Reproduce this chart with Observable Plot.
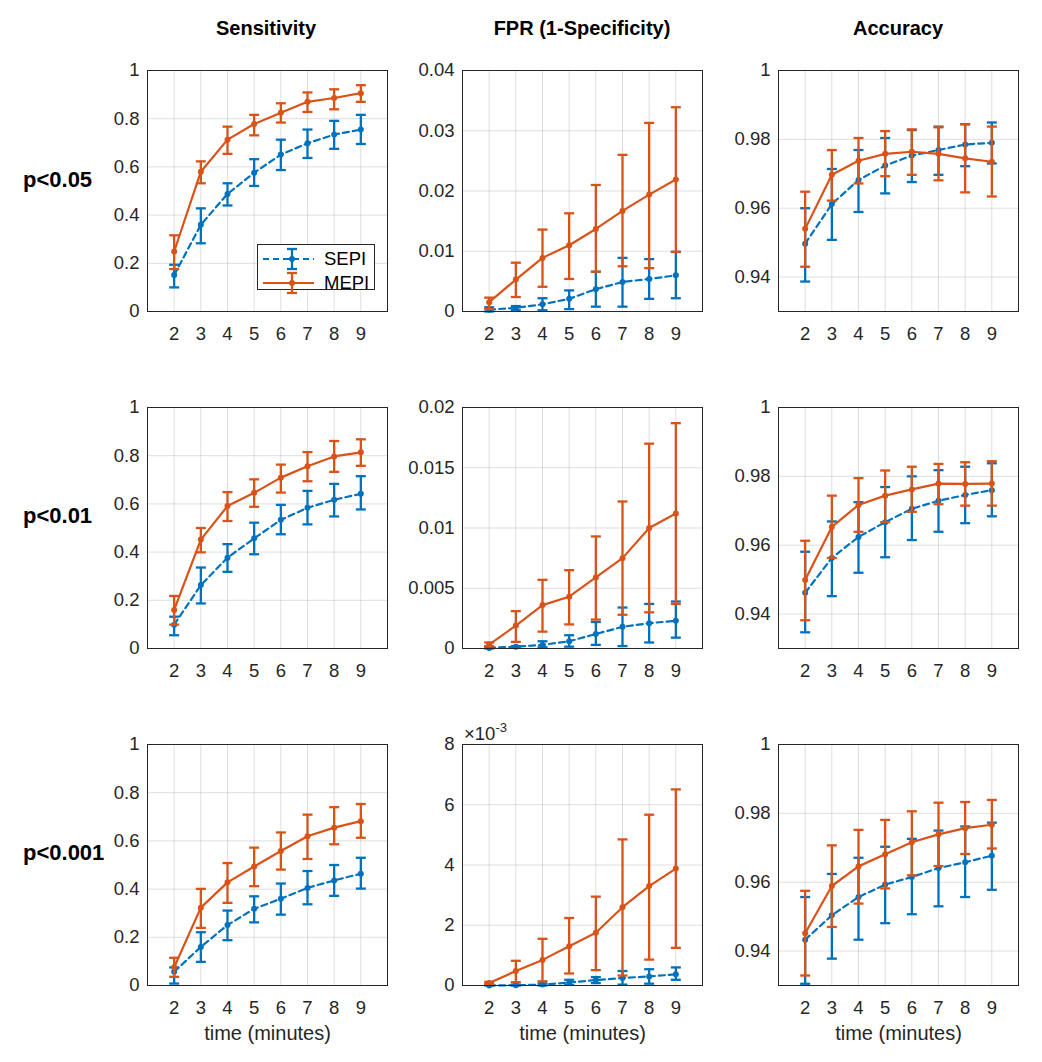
<!DOCTYPE html>
<html>
<head>
<meta charset="utf-8">
<script src="https://cdn.jsdelivr.net/npm/d3@7"></script>
<script src="https://cdn.jsdelivr.net/npm/@observablehq/plot@0.6"></script>
<style>
  html, body { margin: 0; padding: 0; background: #fff; }
  #root { position: relative; width: 1042px; height: 1062px; font-family: "Liberation Sans", Arial, Helvetica, sans-serif; color: #262626; overflow: hidden; }
  .abs { position: absolute; }
  .title { font-weight: bold; font-size: 20px; color: #000; transform: translate(-50%, -50%); white-space: nowrap; line-height: 1; }
  .rowlab { font-weight: bold; font-size: 22px; color: #000; transform: translate(0, -50%); white-space: nowrap; line-height: 1; }
  .legend { border: 1px solid #262626; background: #fff; box-sizing: border-box; }
  .legrow { position: absolute; left: 0; height: 24px; display: flex; align-items: center; font-size: 18.5px; color: #000; }
</style>
</head>
<body>
<div id="root"></div>
<script>
// ---------------- DATA ----------------
const times = [2, 3, 4, 5, 6, 7, 8, 9];
const seriesNames = ["SEPI", "MEPI"];
const columnTitles = ["Sensitivity", "FPR (1-Specificity)", "Accuracy"];
const rowTitles = ["p<0.05", "p<0.01", "p<0.001"];
const xLabel = "time (minutes)";

// tick values
const sensTicks = [0, 0.2, 0.4, 0.6, 0.8, 1];
const fpr05Ticks = [0, 0.01, 0.02, 0.03, 0.04];
const fpr01Ticks = [0, 0.005, 0.01, 0.015, 0.02];
const fpr001Ticks = [0, 0.002, 0.004, 0.006, 0.008];
const accTicks = [0.94, 0.96, 0.98, 1];
const sensDomain = [0, 1];
const fpr05Domain = [0, 0.04];
const fpr01Domain = [0, 0.02];
const fpr001Domain = [0, 0.008];
const accDomain = [0.93, 1];

// Sensitivity, p<0.05
const sens05SepiMean = [0.151, 0.360, 0.488, 0.576, 0.651, 0.698, 0.734, 0.755];
const sens05SepiLo   = [0.100, 0.283, 0.440, 0.521, 0.587, 0.637, 0.675, 0.695];
const sens05SepiHi   = [0.194, 0.428, 0.532, 0.632, 0.713, 0.755, 0.791, 0.816];
const sens05MepiMean = [0.249, 0.580, 0.713, 0.778, 0.825, 0.870, 0.886, 0.906];
const sens05MepiLo   = [0.176, 0.532, 0.654, 0.731, 0.784, 0.828, 0.839, 0.870];
const sens05MepiHi   = [0.316, 0.623, 0.767, 0.816, 0.864, 0.909, 0.922, 0.939];

// FPR, p<0.05
const fpr05SepiMean = [0.0003, 0.0006, 0.0012, 0.0021, 0.0037, 0.0049, 0.0054, 0.0060];
const fpr05SepiLo   = [0.0000, 0.0002, 0.0002, 0.0004, 0.0008, 0.0008, 0.0021, 0.0022];
const fpr05SepiHi   = [0.0007, 0.0009, 0.0022, 0.0035, 0.0066, 0.0089, 0.0087, 0.0099];
const fpr05MepiMean = [0.00155, 0.0053, 0.0089, 0.0110, 0.0137, 0.0167, 0.0194, 0.0219];
const fpr05MepiLo   = [0.0004, 0.0024, 0.0041, 0.0054, 0.0066, 0.0075, 0.0072, 0.0099];
const fpr05MepiHi   = [0.0023, 0.0081, 0.0136, 0.0163, 0.0210, 0.0260, 0.0313, 0.0339];

// Accuracy, p<0.05
const acc05SepiMean = [0.9497, 0.9612, 0.9682, 0.9724, 0.9753, 0.9769, 0.9785, 0.9790];
const acc05SepiLo   = [0.9387, 0.9508, 0.9589, 0.9643, 0.9676, 0.9697, 0.9722, 0.9730];
const acc05SepiHi   = [0.9600, 0.9714, 0.9769, 0.9804, 0.9827, 0.9837, 0.9844, 0.9849];
const acc05MepiMean = [0.9540, 0.9697, 0.9738, 0.9758, 0.9764, 0.9758, 0.9745, 0.9735];
const acc05MepiLo   = [0.9430, 0.9622, 0.9672, 0.9693, 0.9697, 0.9681, 0.9646, 0.9634];
const acc05MepiHi   = [0.9648, 0.9769, 0.9804, 0.9824, 0.9829, 0.9835, 0.9844, 0.9837];

// Sensitivity, p<0.01
const sens01SepiMean = [0.099, 0.263, 0.377, 0.457, 0.534, 0.584, 0.617, 0.642];
const sens01SepiLo   = [0.055, 0.187, 0.318, 0.391, 0.474, 0.515, 0.548, 0.577];
const sens01SepiHi   = [0.132, 0.336, 0.433, 0.522, 0.596, 0.654, 0.683, 0.715];
const sens01MepiMean = [0.160, 0.452, 0.591, 0.646, 0.709, 0.756, 0.797, 0.814];
const sens01MepiLo   = [0.099, 0.399, 0.529, 0.588, 0.647, 0.694, 0.733, 0.758];
const sens01MepiHi   = [0.218, 0.500, 0.649, 0.702, 0.763, 0.815, 0.861, 0.868];

// FPR, p<0.01
const fpr01SepiMean = [0.00005, 0.00015, 0.0003, 0.0006, 0.0012, 0.0018, 0.0021, 0.0023];
const fpr01SepiLo   = [0.0000, 0.00005, 0.0001, 0.00015, 0.0003, 0.0002, 0.0005, 0.0009];
const fpr01SepiHi   = [0.00015, 0.0002, 0.0006, 0.0011, 0.0022, 0.0034, 0.0037, 0.0039];
const fpr01MepiMean = [0.00033, 0.0019, 0.0036, 0.0043, 0.0059, 0.0075, 0.0100, 0.0112];
const fpr01MepiLo   = [0.0002, 0.00055, 0.0014, 0.0020, 0.0024, 0.0028, 0.0030, 0.0037];
const fpr01MepiHi   = [0.0005, 0.0031, 0.0057, 0.0065, 0.0093, 0.0122, 0.0170, 0.0187];

// Accuracy, p<0.01
const acc01SepiMean = [0.9462, 0.9563, 0.9624, 0.9667, 0.9706, 0.9729, 0.9746, 0.9760];
const acc01SepiLo   = [0.9347, 0.9452, 0.9520, 0.9565, 0.9615, 0.9639, 0.9664, 0.9684];
const acc01SepiHi   = [0.9581, 0.9669, 0.9725, 0.9769, 0.9800, 0.9818, 0.9828, 0.9838];
const acc01MepiMean = [0.9499, 0.9653, 0.9717, 0.9744, 0.9762, 0.9779, 0.9778, 0.9779];
const acc01MepiLo   = [0.9382, 0.9563, 0.9639, 0.9667, 0.9697, 0.9719, 0.9715, 0.9715];
const acc01MepiHi   = [0.9613, 0.9744, 0.9795, 0.9817, 0.9828, 0.9836, 0.9841, 0.9844];

// Sensitivity, p<0.001
const sens001SepiMean = [0.057, 0.160, 0.251, 0.318, 0.360, 0.405, 0.436, 0.464];
const sens001SepiLo   = [0.008, 0.098, 0.188, 0.262, 0.294, 0.337, 0.372, 0.402];
const sens001SepiHi   = [0.075, 0.221, 0.311, 0.370, 0.423, 0.475, 0.500, 0.530];
const sens001MepiMean = [0.076, 0.323, 0.428, 0.494, 0.558, 0.619, 0.655, 0.682];
const sens001MepiLo   = [0.036, 0.239, 0.343, 0.412, 0.481, 0.525, 0.586, 0.613];
const sens001MepiHi   = [0.115, 0.401, 0.508, 0.572, 0.635, 0.709, 0.740, 0.753];

// FPR, p<0.001
const fpr001SepiMean = [0.00000, 0.00001, 0.00003, 0.00010, 0.00018, 0.00025, 0.00030, 0.00037];
const fpr001SepiLo   = [0.00000, 0.00000, 0.00000, 0.00002, 0.00008, 0.00003, 0.00006, 0.00019];
const fpr001SepiHi   = [0.00004, 0.00003, 0.00007, 0.00019, 0.00028, 0.00048, 0.00054, 0.00060];
const fpr001MepiMean = [0.00008, 0.00048, 0.00085, 0.00130, 0.00175, 0.00260, 0.00330, 0.00388];
const fpr001MepiLo   = [0.00003, 0.00011, 0.00014, 0.00040, 0.00051, 0.00033, 0.00086, 0.00125];
const fpr001MepiHi   = [0.00012, 0.00082, 0.00155, 0.00224, 0.00295, 0.00485, 0.00567, 0.00651];

// Accuracy, p<0.001
const acc001SepiMean = [0.9433, 0.9504, 0.9557, 0.9593, 0.9615, 0.9641, 0.9658, 0.9677];
const acc001SepiLo   = [0.9305, 0.9378, 0.9433, 0.9481, 0.9507, 0.9530, 0.9557, 0.9578];
const acc001SepiHi   = [0.9557, 0.9624, 0.9671, 0.9703, 0.9726, 0.9750, 0.9762, 0.9773];
const acc001MepiMean = [0.9452, 0.9589, 0.9646, 0.9681, 0.9716, 0.9739, 0.9757, 0.9767];
const acc001MepiLo   = [0.9329, 0.9470, 0.9538, 0.9582, 0.9620, 0.9647, 0.9682, 0.9698];
const acc001MepiHi   = [0.9575, 0.9707, 0.9752, 0.9781, 0.9806, 0.9831, 0.9833, 0.9839];

// ---------------- STYLE / LAYOUT ----------------
const BLUE = "#0072BD";
const ORANGE = "#D95319";
const colLeft = [147, 462, 778];
const rowTop = [70, 407, 744];
const areaW = 240, areaH = 241;
const ML = 75, MR = 10, MT = 10, MB = 64;
const TICK_FS = 18.5;
const plainFormat = d => String(+d.toPrecision(6));

const rec = (mean, lo, hi) => times.map((t, i) => ({t, m: mean[i], lo: lo[i], hi: hi[i]}));

const panels = [
  [
    {domain: sensDomain, ticks: sensTicks, sepi: rec(sens05SepiMean, sens05SepiLo, sens05SepiHi), mepi: rec(sens05MepiMean, sens05MepiLo, sens05MepiHi)},
    {domain: fpr05Domain, ticks: fpr05Ticks, sepi: rec(fpr05SepiMean, fpr05SepiLo, fpr05SepiHi), mepi: rec(fpr05MepiMean, fpr05MepiLo, fpr05MepiHi)},
    {domain: accDomain, ticks: accTicks, sepi: rec(acc05SepiMean, acc05SepiLo, acc05SepiHi), mepi: rec(acc05MepiMean, acc05MepiLo, acc05MepiHi)}
  ],
  [
    {domain: sensDomain, ticks: sensTicks, sepi: rec(sens01SepiMean, sens01SepiLo, sens01SepiHi), mepi: rec(sens01MepiMean, sens01MepiLo, sens01MepiHi)},
    {domain: fpr01Domain, ticks: fpr01Ticks, sepi: rec(fpr01SepiMean, fpr01SepiLo, fpr01SepiHi), mepi: rec(fpr01MepiMean, fpr01MepiLo, fpr01MepiHi)},
    {domain: accDomain, ticks: accTicks, sepi: rec(acc01SepiMean, acc01SepiLo, acc01SepiHi), mepi: rec(acc01MepiMean, acc01MepiLo, acc01MepiHi)}
  ],
  [
    {domain: sensDomain, ticks: sensTicks, sepi: rec(sens001SepiMean, sens001SepiLo, sens001SepiHi), mepi: rec(sens001MepiMean, sens001MepiLo, sens001MepiHi)},
    {domain: fpr001Domain, ticks: fpr001Ticks, format: d => String(Math.round(d * 1000)), sepi: rec(fpr001SepiMean, fpr001SepiLo, fpr001SepiHi), mepi: rec(fpr001MepiMean, fpr001MepiLo, fpr001MepiHi)},
    {domain: accDomain, ticks: accTicks, sepi: rec(acc001SepiMean, acc001SepiLo, acc001SepiHi), mepi: rec(acc001MepiMean, acc001MepiLo, acc001MepiHi)}
  ]
];

// horizontal cap symbol for error bars
const capSymbol = {
  draw(ctx, size) {
    const r = Math.sqrt(size / Math.PI);
    ctx.moveTo(-r, 0);
    ctx.lineTo(r, 0);
  }
};

function seriesMarks(data, color, dash) {
  return [
    Plot.ruleX(data, {x: "t", y1: "lo", y2: "hi", stroke: color, strokeWidth: 2.3}),
    Plot.dot(data, {x: "t", y: "lo", symbol: capSymbol, r: 5, fill: "none", stroke: color, strokeWidth: 2.3}),
    Plot.dot(data, {x: "t", y: "hi", symbol: capSymbol, r: 5, fill: "none", stroke: color, strokeWidth: 2.3}),
    Plot.line(data, {x: "t", y: "m", stroke: color, strokeWidth: 2.2, strokeDasharray: dash}),
    Plot.dot(data, {x: "t", y: "m", r: 3, fill: color, stroke: "none"})
  ];
}

function makePanel(p, isBottom) {
  return Plot.plot({
    width: ML + areaW + MR,
    height: MT + areaH + MB,
    marginLeft: ML, marginRight: MR, marginTop: MT, marginBottom: MB,
    style: {fontFamily: '"Liberation Sans", Arial, Helvetica, sans-serif', fontSize: TICK_FS + "px", color: "#262626", background: "transparent", overflow: "visible"},
    x: {domain: [1, 10]},
    y: {domain: p.domain},
    marks: [
      Plot.gridX(times, {stroke: "#000", strokeOpacity: 0.13, strokeWidth: 1}),
      Plot.gridY(p.ticks, {stroke: "#000", strokeOpacity: 0.13, strokeWidth: 1}),
      Plot.axisX(times, {tickSize: 0, tickPadding: 15, fontSize: TICK_FS, tickFormat: plainFormat, label: null}),
      isBottom ? Plot.axisX(times, {tickSize: 0, ticks: [], tickFormat: () => "", fontSize: 20, label: xLabel, labelAnchor: "center", labelOffset: 54, labelArrow: "none"}) : null,
      Plot.axisY(p.ticks, {tickSize: 0, tickPadding: 8, fontSize: TICK_FS, tickFormat: p.format || plainFormat, label: null}),
      ...seriesMarks(p.sepi, BLUE, "6,4"),
      ...seriesMarks(p.mepi, ORANGE, null),
      Plot.frame({stroke: "#262626", strokeWidth: 1})
    ]
  });
}

const root = document.getElementById("root");

// panels
panels.forEach((row, ri) => {
  row.forEach((p, ci) => {
    const svg = makePanel(p, ri === 2);
    const wrap = document.createElement("div");
    wrap.className = "abs";
    wrap.style.left = (colLeft[ci] - ML) + "px";
    wrap.style.top = (rowTop[ri] - MT) + "px";
    wrap.appendChild(svg);
    root.appendChild(wrap);
  });
});

// column titles
const titleX = [266, 582, 898];
columnTitles.forEach((t, i) => {
  const d = document.createElement("div");
  d.className = "abs title";
  d.style.left = titleX[i] + "px";
  d.style.top = "28px";
  d.textContent = t;
  root.appendChild(d);
});

// row titles
const rowY = [180, 516, 853];
rowTitles.forEach((t, i) => {
  const d = document.createElement("div");
  d.className = "abs rowlab";
  d.style.left = "23px";
  d.style.top = rowY[i] + "px";
  d.textContent = t;
  root.appendChild(d);
});

// exponent label for FPR p<0.001
const ex = document.createElement("div");
ex.className = "abs";
ex.style.left = "464px";
ex.style.top = "725px";
ex.style.fontSize = "18.5px";
ex.style.lineHeight = "1";
ex.style.color = "#262626";
ex.innerHTML = "&times;10<span style=\"font-size:13px; position:relative; top:-8px;\">-3</span>";
root.appendChild(ex);

// legend
const leg = document.createElement("div");
leg.className = "abs legend";
leg.style.left = "257px";
leg.style.top = "244px";
leg.style.width = "118px";
leg.style.height = "46px";
const legItems = [
  {name: seriesNames[0], color: BLUE, dash: "6,4"},
  {name: seriesNames[1], color: ORANGE, dash: null}
];
legItems.forEach((it, i) => {
  const r = document.createElement("div");
  r.className = "legrow";
  r.style.top = (2 + i * 24) + "px";
  const ns = "http://www.w3.org/2000/svg";
  const s = document.createElementNS(ns, "svg");
  s.setAttribute("width", "66");
  s.setAttribute("height", "24");
  const mk = (tag, attrs) => { const e = document.createElementNS(ns, tag); for (const k in attrs) e.setAttribute(k, attrs[k]); s.appendChild(e); };
  mk("line", {x1: 5, x2: 56, y1: 12, y2: 12, stroke: it.color, "stroke-width": 2.2, "stroke-dasharray": it.dash || "none"});
  mk("line", {x1: 34, x2: 34, y1: 2, y2: 22, stroke: it.color, "stroke-width": 2.3});
  mk("line", {x1: 29, x2: 39, y1: 2, y2: 2, stroke: it.color, "stroke-width": 2.3});
  mk("line", {x1: 29, x2: 39, y1: 22, y2: 22, stroke: it.color, "stroke-width": 2.3});
  mk("circle", {cx: 34, cy: 12, r: 3, fill: it.color});
  r.appendChild(s);
  const tx = document.createElement("span");
  tx.textContent = it.name;
  r.appendChild(tx);
  leg.appendChild(r);
});
root.appendChild(leg);
</script>
</body>
</html>
